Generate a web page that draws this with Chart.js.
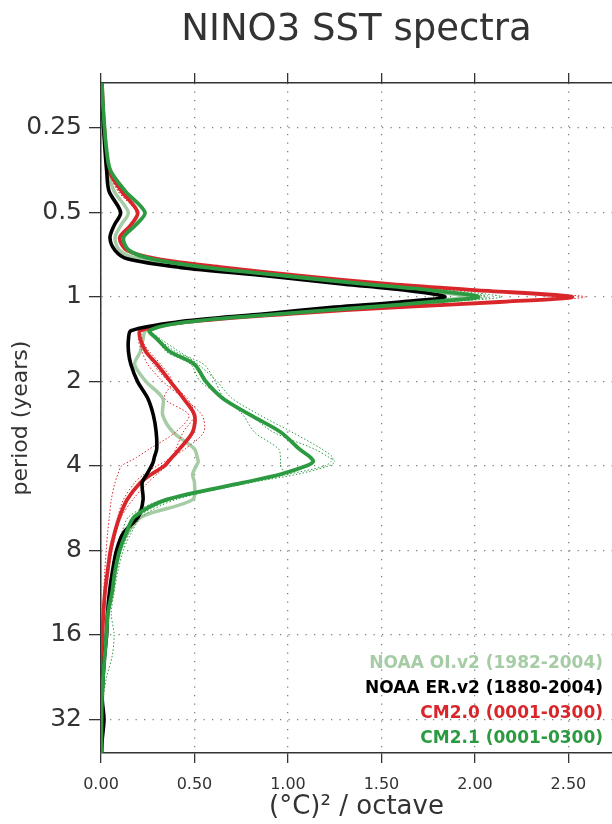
<!DOCTYPE html>
<html>
<head>
<meta charset="utf-8">
<title>NINO3 SST spectra</title>
<script src="https://cdn.jsdelivr.net/npm/chart.js@4.4.0/dist/chart.umd.min.js"></script>
<style>
  html, body { margin: 0; padding: 0; background: #fff; }
  #wrap { width: 612px; height: 824px; }
</style>
</head>
<body>
<div id="wrap"><canvas id="spectraChart" width="612" height="824"></canvas></div>
<script>
const periods = [
  0.173, 0.210, 0.25, 0.297, 0.354, 0.420, 0.5, 0.555, 0.616, 0.683,
  0.732, 0.785, 0.841, 0.901, 0.946, 1, 1.043, 1.087, 1.149, 1.231,
  1.320, 1.414, 1.569, 1.741, 2, 2.297, 2.639, 3.031, 3.482, 3.732,
  3.864, 4, 4.287, 4.595, 5.278, 6.063, 6.964, 8, 9.514, 11.31,
  13.45, 16, 19.03, 22.63, 26.91, 32, 38.05, 42.2
];
const periodTicks = [0.25, 0.5, 1, 2, 4, 8, 16, 32];
const powerTicks = [0, 0.5, 1, 1.5, 2, 2.5];

// power, (degC)^2 / octave
const oiV2 = [
  0.004, 0.009, 0.016, 0.024, 0.036, 0.07, 0.146, 0.107, 0.075, 0.10,
  0.20, 0.50, 0.93, 1.38, 1.70, 1.95, 1.68, 1.35, 0.92, 0.44,
  0.24, 0.225, 0.21, 0.18, 0.24, 0.33, 0.33, 0.385, 0.50, 0.515,
  0.52, 0.51, 0.49, 0.50, 0.49, 0.22, 0.14, 0.09, 0.064, 0.048,
  0.035, 0.025, 0.018, 0.012, 0.008, 0.005, 0.003, 0.002
];
const erV2 = [
  0.004, 0.008, 0.014, 0.021, 0.030, 0.043, 0.105, 0.071, 0.048, 0.075,
  0.14, 0.42, 0.88, 1.30, 1.62, 1.84, 1.60, 1.25, 0.88, 0.40,
  0.16, 0.147, 0.147, 0.16, 0.195, 0.25, 0.28, 0.295, 0.298, 0.285,
  0.28, 0.27, 0.245, 0.22, 0.225, 0.20, 0.118, 0.083, 0.061, 0.045,
  0.035, 0.030, 0.019, 0.011, 0.006, 0.016, 0.006, 0.003
];
const cm20 = [
  0.005, 0.010, 0.017, 0.026, 0.041, 0.11, 0.196, 0.159, 0.10, 0.14,
  0.30, 0.65, 1.06, 1.55, 2.00, 2.52, 2.13, 1.60, 1.01, 0.45,
  0.21, 0.21, 0.24, 0.30, 0.37, 0.44, 0.50, 0.49, 0.42, 0.38,
  0.36, 0.34, 0.27, 0.21, 0.14, 0.10, 0.072, 0.051, 0.035, 0.021,
  0.013, 0.008, 0.005, 0.004, 0.003, 0.003, 0.002, 0.002
];
const cm21 = [
  0.005, 0.011, 0.019, 0.029, 0.050, 0.13, 0.235, 0.185, 0.12, 0.15,
  0.27, 0.56, 0.98, 1.42, 1.76, 2.02, 1.76, 1.44, 0.96, 0.45,
  0.26, 0.30, 0.37, 0.50, 0.56, 0.65, 0.80, 0.96, 1.06, 1.12,
  1.135, 1.10, 0.96, 0.76, 0.35, 0.18, 0.134, 0.10, 0.075, 0.059,
  0.037, 0.029, 0.02, 0.011, 0.005, 0.003, 0.002, 0.002
];

// thin dotted curves (sub-period estimates)
const cm20a = [
  0.005, 0.010, 0.017, 0.027, 0.043, 0.10, 0.20, 0.16, 0.10, 0.14,
  0.31, 0.66, 1.08, 1.58, 2.05, 2.59, 2.18, 1.63, 1.03, 0.46,
  0.22, 0.20, 0.22, 0.25, 0.33, 0.44, 0.54, 0.55, 0.45, 0.38,
  0.34, 0.30, 0.23, 0.18, 0.12, 0.09, 0.07, 0.05, 0.035, 0.022,
  0.014, 0.009, 0.006, 0.004, 0.003, 0.003, 0.002, 0.002
];
const cm20b = [
  0.005, 0.009, 0.016, 0.025, 0.040, 0.09, 0.19, 0.155, 0.10, 0.135,
  0.29, 0.64, 1.04, 1.52, 1.97, 2.48, 2.10, 1.58, 1.00, 0.44,
  0.21, 0.21, 0.26, 0.32, 0.38, 0.34, 0.47, 0.40, 0.26, 0.19,
  0.15, 0.11, 0.09, 0.075, 0.055, 0.045, 0.035, 0.028, 0.02, 0.015,
  0.01, 0.007, 0.005, 0.004, 0.003, 0.002, 0.002, 0.002
];
const cm20c = [
  0.005, 0.010, 0.018, 0.027, 0.042, 0.095, 0.20, 0.16, 0.105, 0.145,
  0.30, 0.65, 1.05, 1.54, 1.99, 2.45, 2.08, 1.57, 0.99, 0.45,
  0.22, 0.22, 0.25, 0.28, 0.36, 0.46, 0.50, 0.44, 0.40, 0.38,
  0.37, 0.35, 0.30, 0.25, 0.17, 0.11, 0.08, 0.06, 0.04, 0.025,
  0.015, 0.01, 0.006, 0.004, 0.003, 0.003, 0.002, 0.002
];
const cm21a = [
  0.005, 0.011, 0.019, 0.030, 0.052, 0.13, 0.24, 0.19, 0.125, 0.155,
  0.28, 0.58, 1.02, 1.50, 1.86, 2.14, 1.85, 1.50, 1.00, 0.47,
  0.27, 0.31, 0.40, 0.55, 0.61, 0.66, 0.80, 0.92, 1.14, 1.22,
  1.25, 1.22, 1.05, 0.80, 0.40, 0.22, 0.16, 0.12, 0.09, 0.07,
  0.055, 0.07, 0.06, 0.03, 0.012, 0.006, 0.003, 0.002
];
const cm21b = [
  0.005, 0.010, 0.018, 0.028, 0.048, 0.12, 0.23, 0.18, 0.115, 0.145,
  0.26, 0.55, 0.97, 1.44, 1.80, 2.08, 1.80, 1.46, 0.98, 0.46,
  0.26, 0.30, 0.35, 0.48, 0.53, 0.66, 0.76, 0.82, 0.95, 0.96,
  0.96, 0.96, 0.98, 0.78, 0.38, 0.20, 0.15, 0.11, 0.08, 0.06,
  0.04, 0.03, 0.02, 0.012, 0.006, 0.003, 0.002, 0.002
];
const cm21c = [
  0.005, 0.011, 0.019, 0.029, 0.05, 0.125, 0.235, 0.185, 0.12, 0.15,
  0.27, 0.57, 1.00, 1.46, 1.78, 2.05, 1.78, 1.45, 0.97, 0.46,
  0.27, 0.32, 0.42, 0.52, 0.62, 0.70, 0.85, 1.02, 1.18, 1.24,
  1.23, 1.20, 1.00, 0.75, 0.33, 0.15, 0.11, 0.085, 0.065, 0.05,
  0.035, 0.028, 0.02, 0.011, 0.005, 0.003, 0.002, 0.002
];

const legendLabels = ['NOAA OI.v2 (1982-2004)', 'NOAA ER.v2 (1880-2004)', 'CM2.0 (0001-0300)', 'CM2.1 (0001-0300)'];
const colors = { oi: '#a6cca6', er: '#000000', cm20: '#d8262b', cm21: '#2b9a40' };
const legendColors = [colors.oi, colors.er, colors.cm20, colors.cm21];

const FONT = "'DejaVu Sans', sans-serif";
const INK = '#333333';

function makeSeries(label, values, color, width, dotted, order) {
    return {
        label: label,
        data: periods.map((p, i) => ({ x: values[i], y: p })),
        borderColor: color,
        borderWidth: width,
        borderDash: dotted ? [1.5, 2] : [],
        pointRadius: 0,
        tension: 0.3,
        fill: false,
        order: order
    };
}

// legend drawn as coloured text inside the plot, bottom right
const textLegend = {
    id: 'textLegend',
    afterDatasetsDraw(chart) {
        const { ctx, chartArea } = chart;
        ctx.save();
        ctx.font = 'bold 17px ' + FONT;
        ctx.textAlign = 'right';
        ctx.textBaseline = 'middle';
        legendLabels.forEach((t, i) => {
            ctx.fillStyle = legendColors[i];
            ctx.fillText(t, chartArea.right - 9, chartArea.bottom - 89 + i * 24.7);
        });
        ctx.restore();
    }
};

const gridDots = { color: '#808080', lineWidth: 1.3, tickColor: INK, tickBorderDash: [], tickWidth: 1.3 };
const axisBorder = { color: INK, width: 1.5, dash: [1.3, 7.2] };

const ctx = document.getElementById('spectraChart').getContext('2d');
new Chart(ctx, {
    type: 'line',
    data: {
        datasets: [
            makeSeries(legendLabels[0], oiV2, colors.oi, 3.5, false, 9),
            makeSeries('CM2.0 a', cm20a, colors.cm20, 1, true, 8),
            makeSeries('CM2.0 b', cm20b, colors.cm20, 1, true, 8),
            makeSeries('CM2.0 c', cm20c, colors.cm20, 1, true, 8),
            makeSeries('CM2.1 a', cm21a, colors.cm21, 1, true, 7),
            makeSeries('CM2.1 b', cm21b, colors.cm21, 1, true, 7),
            makeSeries('CM2.1 c', cm21c, colors.cm21, 1, true, 7),
            makeSeries(legendLabels[2], cm20, colors.cm20, 3.8, false, 2),
            makeSeries(legendLabels[1], erV2, colors.er, 3.6, false, 1),
            makeSeries(legendLabels[3], cm21, colors.cm21, 3.8, false, 0)
        ]
    },
    options: {
        indexAxis: 'y',
        responsive: false,
        animation: false,
        events: [],
        layout: { padding: 0 },
        plugins: {
            legend: { display: false },
            tooltip: { enabled: false },
            title: {
                display: true,
                text: 'NINO3 SST spectra',
                fullSize: false,
                color: INK,
                font: { family: FONT, size: 37, weight: 'normal' },
                padding: { top: 8, bottom: 20.6 }
            }
        },
        scales: {
            x: {
                type: 'linear',
                position: 'bottom',
                min: 0,
                max: 2.733,
                afterBuildTicks: s => { s.ticks = powerTicks.map(v => ({ value: v })); },
                afterFit: s => { s.height = 71; },
                grid: Object.assign({ tickLength: 10 }, gridDots),
                border: axisBorder,
                ticks: {
                    color: INK,
                    font: { family: FONT, size: 16 },
                    padding: 12,
                    maxRotation: 0,
                    autoSkip: false,
                    callback: v => Number(v).toFixed(2)
                },
                title: {
                    display: true,
                    text: '(°C)² / octave',
                    color: INK,
                    font: { family: FONT, size: 26 },
                    padding: { top: 0, bottom: 1 }
                }
            },
            x2: {
                type: 'linear',
                position: 'top',
                min: 0,
                max: 2.733,
                afterBuildTicks: s => { s.ticks = powerTicks.map(v => ({ value: v })); },
                afterFit: s => { s.height = 10; },
                grid: Object.assign({ tickLength: 10, drawOnChartArea: false }, gridDots),
                border: axisBorder,
                ticks: { padding: 0, autoSkip: false, callback: () => '' }
            },
            y: {
                type: 'logarithmic',
                position: 'left',
                reverse: true,
                min: 0.173,
                max: 42.2,
                afterBuildTicks: s => { s.ticks = periodTicks.map(v => ({ value: v })); },
                afterFit: s => { s.width = 101; },
                grid: Object.assign({ tickLength: 12 }, gridDots),
                border: axisBorder,
                ticks: {
                    color: INK,
                    font: { family: FONT, size: 25 },
                    padding: 7,
                    autoSkip: false,
                    callback: v => String(v)
                },
                title: {
                    display: true,
                    text: 'period (years)',
                    color: INK,
                    font: { family: FONT, size: 22 },
                    padding: { top: 8, bottom: 0 }
                }
            }
        }
    },
    plugins: [textLegend]
});
</script>
</body>
</html>
